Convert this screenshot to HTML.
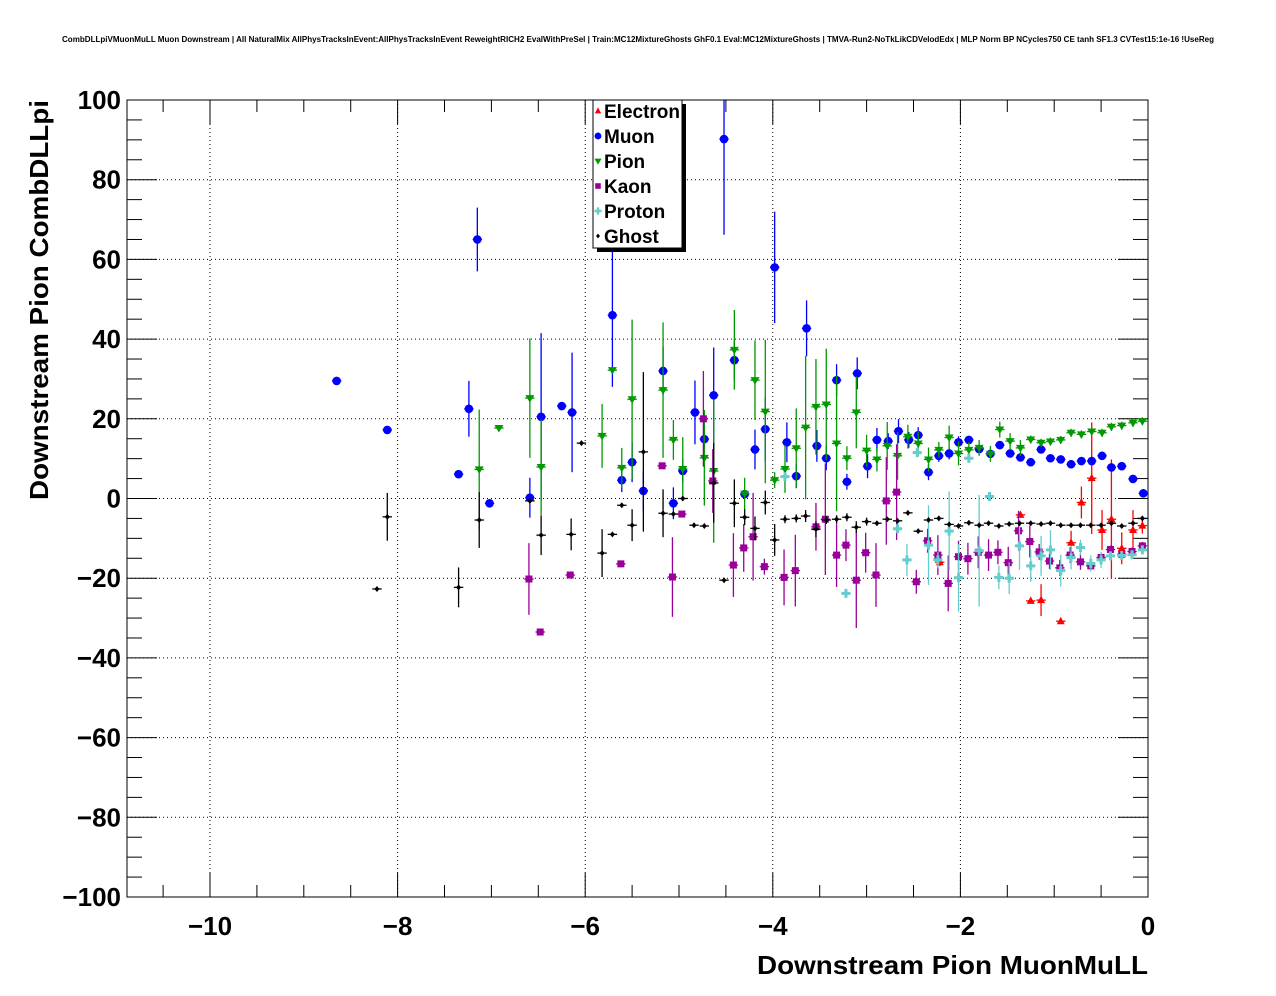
<!DOCTYPE html>
<html><head><meta charset="utf-8">
<style>
html,body{margin:0;padding:0;background:#fff;}
svg{display:block;font-family:"Liberation Sans",sans-serif;}
</style></head>
<body>
<svg id="chart" width="1276" height="996" viewBox="0 0 1276 996">
<text x="638" y="42" text-anchor="middle" font-size="8" font-weight="bold" textLength="1152" lengthAdjust="spacingAndGlyphs">CombDLLpiVMuonMuLL Muon Downstream | All NaturalMix AllPhysTracksInEvent:AllPhysTracksInEvent ReweightRICH2 EvalWithPreSel | Train:MC12MixtureGhosts GhF0.1 Eval:MC12MixtureGhosts | TMVA-Run2-NoTkLikCDVelodEdx | MLP Norm BP NCycles750 CE tanh SF1.3 CVTest15:1e-16 !UseReg</text>
<g id="grid"></g>
<g id="axes"></g>
<g id="marks"></g>
<g id="legend"></g>
<text x="1148" y="974" text-anchor="end" font-size="26" font-weight="bold" textLength="391" lengthAdjust="spacingAndGlyphs">Downstream Pion MuonMuLL</text>
<text transform="translate(48,100) rotate(-90)" text-anchor="end" font-size="26" font-weight="bold" textLength="400" lengthAdjust="spacingAndGlyphs">Downstream Pion CombDLLpi</text>
</svg>
<script>
// ---- data ----
const xTicks = [-10, -8, -6, -4, -2, 0];
const yTicks = [-100, -80, -60, -40, -20, 0, 20, 40, 60, 80, 100];
const seriesNames = ["Electron", "Muon", "Pion", "Kaon", "Proton", "Ghost"];

const electronX = [-2.22, -1.36, -1.25, -1.14, -0.93, -0.82, -0.71, -0.60, -0.49, -0.39, -0.28, -0.16, -0.06];
const electronY = [-16.0, -4.1, -25.7, -25.5, -30.8, -11.1, -1.0, 5.1, -7.9, -5.2, -12.5, -7.9, -6.8];
const electronErr = [1, 0.5, 0.5, 4, 0.5, 3, 4, 14, 5, 15, 4, 5, 2];

const muonX = [-8.65, -8.11, -7.35, -7.24, -7.15, -7.02, -6.59, -6.47, -6.25, -6.14, -5.71, -5.61, -5.50, -5.38, -5.17, -5.06, -4.96, -4.83, -4.73, -4.63, -4.52, -4.41, -4.30, -4.19, -4.08, -3.98, -3.85, -3.75, -3.64, -3.53, -3.43, -3.32, -3.21, -3.10, -2.99, -2.89, -2.77, -2.66, -2.55, -2.45, -2.34, -2.23, -2.12, -2.02, -1.91, -1.80, -1.68, -1.58, -1.47, -1.36, -1.25, -1.14, -1.04, -0.93, -0.82, -0.71, -0.60, -0.49, -0.39, -0.28, -0.16, -0.05];
const muonY = [29.5, 17.2, 6.1, 22.5, 65, -1.2, 0.2, 20.5, 23.2, 21.6, 46.0, 4.6, 9.1, 1.9, 32, -1.2, 6.9, 21.6, 14.9, 25.9, 90.2, 34.7, 1.1, 12.3, 17.4, 58, 14.1, 5.6, 42.7, 13.2, 10.1, 29.7, 4.2, 31.4, 8.1, 14.7, 14.4, 16.9, 14.7, 15.9, 6.6, 10.7, 11.3, 14.1, 14.7, 12.4, 11.2, 13.4, 11.3, 10.3, 9.1, 12.3, 10.1, 9.8, 8.6, 9.4, 9.4, 10.7, 7.8, 8.1, 4.9, 1.3];
const muonErr = [0, 0, 0, 7, 8, 0, 5, 21, 0, 15, 18, 3, 5, 5, 6, 4, 3, 8, 2, 12, 24, 5, 1, 5, 8, 14, 5, 3, 7, 4, 3, 4, 2, 4, 3, 3, 2, 3, 2, 2, 2, 1.5, 1.5, 1.5, 1, 1, 1, 1, 1, 1, 1, 1, 1, 1, 1, 1, 1, 1, 0.5, 0.5, 0.5, 0.5];

const pionX = [-7.13, -6.92, -6.59, -6.47, -5.82, -5.71, -5.61, -5.50, -5.17, -5.06, -4.96, -4.73, -4.63, -4.41, -4.30, -4.19, -4.08, -3.98, -3.87, -3.75, -3.65, -3.54, -3.43, -3.32, -3.21, -3.11, -3.00, -2.89, -2.78, -2.67, -2.56, -2.45, -2.34, -2.23, -2.12, -2.02, -1.91, -1.80, -1.68, -1.58, -1.47, -1.36, -1.25, -1.14, -1.04, -0.93, -0.82, -0.71, -0.60, -0.49, -0.39, -0.28, -0.16, -0.06];
const pionY = [7.3, 17.7, 25.2, 7.9, 15.7, 32.2, 7.7, 24.9, 27.2, 14.7, 7.4, 10.2, 6.9, 37.3, 1.2, 29.7, 21.8, 4.6, 7.4, 12.6, 17.8, 23.0, 23.6, 13.8, 10.1, 21.6, 12.0, 9.8, 13.2, 10.7, 15.5, 13.8, 9.8, 12.2, 15.3, 11.3, 12.2, 12.7, 11.2, 17.3, 14.4, 12.7, 14.8, 14.0, 14.3, 14.7, 16.5, 16.1, 16.8, 16.5, 18.0, 18.3, 19.0, 19.4];
const pionErr = [15, 0, 15, 12, 8, 0, 5, 20, 17, 5, 8, 12, 18, 10, 4, 10, 18, 2, 6, 10, 18, 12, 14, 17, 3, 9, 4, 3, 6, 6, 3, 3, 3, 2, 3, 3, 2, 2, 2, 2, 2, 2, 1, 1, 1, 1, 1, 1, 1, 1, 1, 1, 1, 1];

const kaonX = [-6.60, -6.48, -6.16, -5.62, -5.18, -5.07, -4.97, -4.74, -4.64, -4.42, -4.31, -4.21, -4.09, -3.88, -3.76, -3.54, -3.44, -3.32, -3.22, -3.11, -3.01, -2.90, -2.79, -2.68, -2.47, -2.35, -2.24, -2.13, -2.02, -1.92, -1.81, -1.70, -1.60, -1.49, -1.38, -1.26, -1.16, -1.05, -0.94, -0.83, -0.72, -0.61, -0.50, -0.40, -0.28, -0.17, -0.06];
const kaonY = [-20.2, -33.5, -19.2, -16.4, 8.2, -19.7, -3.9, 20, 4.4, -16.7, -12.4, -9.6, -17.1, -19.8, -18.1, -7.1, -5.2, -14.2, -11.7, -20.5, -13.6, -19.2, -0.6, 1.6, -20.9, -10.6, -14.2, -21.3, -14.6, -15.1, -13.5, -14.2, -13.5, -16.1, -8.1, -10.8, -13.4, -15.7, -17.4, -14.2, -15.9, -16.9, -14.8, -12.8, -14.0, -13.3, -11.9];
const kaonErr = [9, 0, 0, 0, 0, 10, 0, 12, 8, 8, 6, 11, 2, 7, 9, 6, 14, 8, 4, 12, 5, 8, 11, 12, 3, 3, 5, 7, 4, 4, 4, 4, 3, 4, 5, 4, 2, 2, 2, 2, 2, 1, 1, 1, 1, 1, 1];

const protonX = [-3.87, -3.22, -2.67, -2.57, -2.46, -2.34, -2.24, -2.12, -2.02, -1.91, -1.80, -1.69, -1.59, -1.48, -1.37, -1.25, -1.14, -1.04, -0.93, -0.82, -0.72, -0.61, -0.50, -0.40, -0.28, -0.17, -0.06];
const protonY = [5.5, -23.8, -7.6, -15.4, 11.5, -11.7, -15.4, -8.2, -19.9, 10.1, -13.1, 0.5, -19.8, -20.0, -11.9, -16.9, -14.4, -12.9, -18.1, -14.8, -12.3, -16.3, -15.4, -14.4, -14.3, -14.1, -12.9];
const protonErr = [0, 0, 0, 4, 1, 10, 2, 10, 8.5, 0.5, 14, 1, 3, 4, 6, 4, 5, 5, 4, 3, 2, 2, 2, 1, 1, 1, 1];

const ghostX = [-8.22, -8.11, -7.35, -7.13, -6.59, -6.47, -6.15, -6.04, -5.82, -5.71, -5.61, -5.50, -5.38, -5.17, -5.06, -4.96, -4.84, -4.73, -4.63, -4.52, -4.41, -4.30, -4.19, -4.08, -3.98, -3.87, -3.75, -3.65, -3.54, -3.43, -3.32, -3.21, -3.11, -3.00, -2.89, -2.78, -2.67, -2.56, -2.45, -2.34, -2.23, -2.12, -2.02, -1.91, -1.80, -1.70, -1.59, -1.48, -1.37, -1.25, -1.14, -1.04, -0.93, -0.82, -0.72, -0.61, -0.50, -0.39, -0.28, -0.16, -0.06];
const ghostY = [-22.7, -4.6, -22.3, -5.4, -0.6, -9.2, -9.0, 13.9, -13.7, -9.0, -1.7, -6.7, 11.7, -3.7, -3.9, 0, -6.7, -6.9, 3.9, -20.5, -1.2, -4.7, -7.5, -1.0, -10.4, -5.2, -5.0, -4.4, -7.7, -5.4, -5.2, -4.7, -7.2, -5.8, -6.2, -5.2, -5.6, -3.6, -8.2, -5.4, -5.0, -6.5, -6.9, -6.1, -6.7, -6.2, -6.9, -6.4, -6.2, -6.2, -6.4, -6.2, -6.7, -6.7, -6.7, -6.7, -6.7, -6.2, -6.9, -6.2, -5.0];
const ghostErr = [0, 6, 5, 7, 0, 5, 4, 0, 6, 0, 0, 4, 20, 6, 0, 0, 0, 0, 10, 0, 6, 2, 3, 3, 4, 1, 1, 1.5, 2, 1, 1, 1, 1.5, 1, 0.5, 0.5, 0.5, 0.5, 0.5, 0.5, 0.5, 0.5, 0.5, 0.5, 0.5, 0.5, 0.5, 0.5, 0.5, 0.5, 0.5, 0.5, 0.5, 0.5, 0.5, 0.5, 0.5, 0.5, 0.5, 0.5, 0.5];

// ---- axis functions ----
const X0 = 127, X1 = 1148, Y0 = 100, Y1 = 897;
const xMin = -10.885, xMax = 0, yMin = -100, yMax = 100;
function sx(v){ return X0 + (v - xMin) / (xMax - xMin) * (X1 - X0); }
function sy(v){ return Y1 - (v - yMin) / (yMax - yMin) * (Y1 - Y0); }

const NS = "http://www.w3.org/2000/svg";
function mk(tag, attrs, parent){
  const e = document.createElementNS(NS, tag);
  for (const k in attrs) e.setAttribute(k, attrs[k]);
  parent.appendChild(e);
  return e;
}
const gGrid = document.getElementById('grid');
const gAxes = document.getElementById('axes');
const gMarks = document.getElementById('marks');
const gLeg = document.getElementById('legend');

xTicks.forEach(t => {
  if (t <= xMin || t >= xMax) return;
  const l = mk('line', {x1: sx(t), x2: sx(t), y1: Y0, y2: Y1, stroke: '#000', 'stroke-width': 1, 'stroke-dasharray': '1,3'}, gGrid);
  
  
});
yTicks.forEach(t => {
  if (t <= yMin || t >= yMax) return;
  const l = mk('line', {x1: X0, x2: X1, y1: sy(t), y2: sy(t), stroke: '#000', 'stroke-width': 1, 'stroke-dasharray': '1,3'}, gGrid);
  
  
});

const fr = mk('rect', {x: X0, y: Y0, width: X1 - X0, height: Y1 - Y0, fill: 'none', stroke: '#000', 'stroke-width': 1}, gAxes);



for (let v = -10.5; v <= 0.001; v += 0.5) {
  const major = Math.abs(v / 2 - Math.round(v / 2)) < 1e-6;
  const len = major ? 24 : 12;
  const px = sx(v);
  mk('line', {x1: px, x2: px, y1: Y1, y2: Y1 - len, stroke: '#000', 'stroke-width': 1}, gAxes);
  mk('line', {x1: px, x2: px, y1: Y0, y2: Y0 + len, stroke: '#000', 'stroke-width': 1}, gAxes);
}
xTicks.forEach(t => {
  const tx = mk('text', {x: sx(t), y: 935, 'text-anchor': 'middle', 'font-size': 26, 'font-weight': 'bold'}, gAxes);
  tx.textContent = t < 0 ? '\u2212' + Math.abs(t) : String(t);
  
  
});
for (let v = -100; v <= 100.001; v += 5) {
  const major = Math.abs(v % 20) < 1e-6;
  const len = major ? 30 : 15;
  const py = sy(v);
  mk('line', {x1: X0, x2: X0 + len, y1: py, y2: py, stroke: '#000', 'stroke-width': 1}, gAxes);
  mk('line', {x1: X1, x2: X1 - len, y1: py, y2: py, stroke: '#000', 'stroke-width': 1}, gAxes);
}
yTicks.forEach(t => {
  const tx = mk('text', {x: 121, y: sy(t) + 9, 'text-anchor': 'end', 'font-size': 26, 'font-weight': 'bold'}, gAxes);
  tx.textContent = t < 0 ? '\u2212' + Math.abs(t) : String(t);
  
  
});

function marker(kind, cx, cy, color, parent, scale){
  const s = scale || 1;
  if (kind === 'tri-up') return mk('polygon', {points: `${cx},${cy-4.5*s} ${cx-4*s},${cy+3*s} ${cx+4*s},${cy+3*s}`, fill: color}, parent);
  if (kind === 'circle') return mk('circle', {cx: cx, cy: cy, r: 4.3*s, fill: color}, parent);
  if (kind === 'tri-down') return mk('polygon', {points: `${cx},${cy+4.5*s} ${cx-4.5*s},${cy-3*s} ${cx+4.5*s},${cy-3*s}`, fill: color}, parent);
  if (kind === 'square') return mk('rect', {x: cx-3.5*s, y: cy-3.5*s, width: 7*s, height: 7*s, fill: color}, parent);
  if (kind === 'cross') return mk('path', {d: `M${cx-4.5*s},${cy-1.5*s}h${3*s}v${-3*s}h${3*s}v${3*s}h${3*s}v${3*s}h${-3*s}v${3*s}h${-3*s}v${-3*s}h${-3*s}z`, fill: color}, parent);
  return mk('polygon', {points: `${cx},${cy-3*s} ${cx+2.5*s},${cy} ${cx},${cy+3*s} ${cx-2.5*s},${cy}`, fill: color}, parent);
}

const series = [
  {name: 'electron', xs: electronX, ys: electronY, es: electronErr, color: '#ff0000', kind: 'tri-up'},
  {name: 'muon', xs: muonX, ys: muonY, es: muonErr, color: '#0000ff', kind: 'circle'},
  {name: 'pion', xs: pionX, ys: pionY, es: pionErr, color: '#009900', kind: 'tri-down'},
  {name: 'kaon', xs: kaonX, ys: kaonY, es: kaonErr, color: '#990099', kind: 'square'},
  {name: 'proton', xs: protonX, ys: protonY, es: protonErr, color: '#66cccc', kind: 'cross'},
  {name: 'ghost', xs: ghostX, ys: ghostY, es: ghostErr, color: '#000000', kind: 'diamond'}
];
const defs = mk('defs', {}, document.getElementById('chart'));
const cp = mk('clipPath', {id: 'plotclip'}, defs);
mk('rect', {x: X0, y: Y0, width: X1 - X0, height: Y1 - Y0}, cp);
gMarks.setAttribute('clip-path', 'url(#plotclip)');

series.forEach(s => {
  const g = mk('g', {}, gMarks);
  
  
  for (let i = 0; i < s.xs.length; i++) {
    const cx = sx(s.xs[i]), cy = sy(s.ys[i]);
    const pg = mk('g', {}, g);
    
    
    mk('line', {x1: sx(s.xs[i] - 0.05), x2: sx(s.xs[i] + 0.05), y1: cy, y2: cy, stroke: s.color, 'stroke-width': 1.3}, pg);
    if (s.es[i] > 0) mk('line', {x1: cx, x2: cx, y1: sy(s.ys[i] + s.es[i]), y2: sy(s.ys[i] - s.es[i]), stroke: s.color, 'stroke-width': 1.3}, pg);
    marker(s.kind, cx, cy, s.color, pg);
  }
});

const lx = 593, ly = 100, lw = 89, lh = 148;
mk('rect', {x: lx + 4, y: ly + 4, width: lw, height: lh, fill: '#000'}, gLeg);
const lb = mk('rect', {x: lx, y: ly, width: lw, height: lh, fill: '#fff', stroke: '#000', 'stroke-width': 1}, gLeg);


series.forEach((s, i) => {
  const ey = 111 + i * 25;
  const eg = mk('g', {}, gLeg);
  
  
  marker(s.kind, 598, ey, s.color, eg, 0.8);
  const t = mk('text', {x: 604, y: ey + 7, 'font-size': 19, 'font-weight': 'bold'}, eg);
  t.textContent = seriesNames[i];
});
</script>
</body></html>
